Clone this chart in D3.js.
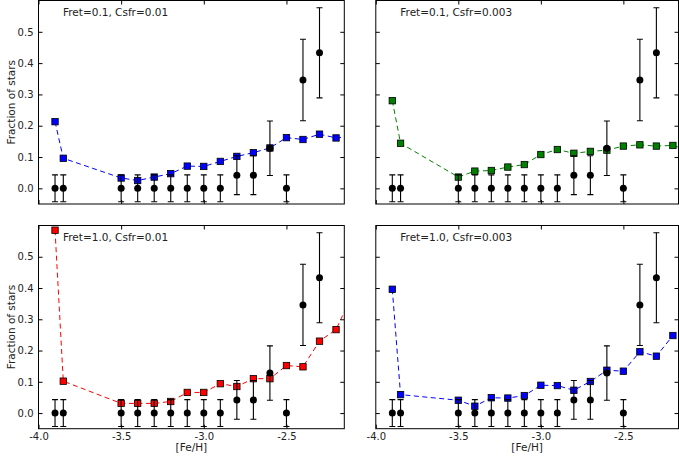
<!DOCTYPE html>
<html><head><meta charset="utf-8">
<script src="https://cdn.jsdelivr.net/npm/d3@7"></script>
<style>body{margin:0;background:#fff}svg{display:block}text{font-family:"DejaVu Sans",sans-serif;fill:#222}</style>
</head><body><svg id="c" width="679" height="460"></svg>
<script>
// Observed data (black points with error bars)
const obsFeH = [-3.9,-3.85,-3.5,-3.4,-3.3,-3.2,-3.1,-3.0,-2.9,-2.8,-2.7,-2.6,-2.5,-2.4,-2.3];
const obsFrac = [0,0,0,0,0,0,0,0,0,0.042,0.042,0.128,0,0.346,0.433];
const obsErr = [0.043,0.043,0.043,0.043,0.043,0.043,0.043,0.043,0.043,0.062,0.062,0.087,0.043,0.13,0.144];
// Model data
const modelFeH = [-3.9,-3.85,-3.5,-3.4,-3.3,-3.2,-3.1,-3.0,-2.9,-2.8,-2.7,-2.6,-2.5,-2.4,-2.3,-2.2,-2.1];
const modelA = [0.213,0.096,0.033,0.025,0.036,0.047,0.071,0.070,0.086,0.102,0.114,0.129,0.162,0.156,0.173,0.161,0.167];
const modelB = [0.280,0.144,0.036,0.055,0.057,0.068,0.076,0.108,0.124,0.112,0.118,0.122,0.135,0.139,0.135,0.137,0.12];
const modelC = [0.585,0.102,0.031,0.031,0.031,0.037,0.066,0.066,0.094,0.085,0.110,0.110,0.152,0.148,0.230,0.267,0.38];
const modelD = [0.396,0.059,0.041,0.022,0.049,0.048,0.056,0.089,0.088,0.073,0.101,0.137,0.134,0.196,0.182,0.248,0.27];
const panelLabels = ["Fret=0.1, Csfr=0.01","Fret=0.1, Csfr=0.003","Fret=1.0, Csfr=0.01","Fret=1.0, Csfr=0.003"];
const xTicks = [-4.0,-3.5,-3.0,-2.5];
const yTicks = [0.0,0.1,0.2,0.3,0.4,0.5];

const panels = [
  {x0:38.5,x1:344.3,xmax:-2.15,y0:0.5,y1:204,model:modelA,color:"#0000ff",label:panelLabels[0],left:true,bottom:false},
  {x0:375.8,x1:678.5,xmax:-2.166,y0:0.5,y1:204,model:modelB,color:"#008000",label:panelLabels[1],left:false,bottom:false},
  {x0:38.5,x1:344.3,xmax:-2.15,y0:225.5,y1:428.7,model:modelC,color:"#ff0000",label:panelLabels[2],left:true,bottom:true},
  {x0:375.8,x1:678.5,xmax:-2.166,y0:225.5,y1:428.7,model:modelD,color:"#0000ff",label:panelLabels[3],left:false,bottom:true}
];
const svg = d3.select("#c");
panels.forEach((p,i)=>{
  const x = d3.scaleLinear().domain([-4.0,p.xmax]).range([p.x0,p.x1]);
  const y = d3.scaleLinear().domain([-0.05,0.6]).range([p.y1,p.y0]);
  const g = svg.append("g");
  const cid = "clip"+i;
  g.append("clipPath").attr("id",cid).append("rect").attr("x",p.x0).attr("y",p.y0).attr("width",p.x1-p.x0).attr("height",p.y1-p.y0);
  const pg = g.append("g").attr("clip-path",`url(#${cid})`);
  const pts = p.model.map((v,j)=>[modelFeH[j],v]);
  pg.append("path").attr("d",d3.line().x(d=>x(d[0])).y(d=>y(d[1]))(pts))
    .attr("fill","none").attr("stroke",p.color).attr("stroke-width",1).attr("stroke-dasharray","5,3.5");
  pg.selectAll("rect.m").data(pts).enter().append("rect")
    .attr("x",d=>x(d[0])-3.2).attr("y",d=>y(d[1])-3.2).attr("width",6.4).attr("height",6.4)
    .attr("fill",p.color).attr("stroke","#000").attr("stroke-width",0.8);
  // error bars
  obsFeH.forEach((f,j)=>{
    const cx = x(f), lo=y(obsFrac[j]-obsErr[j]), hi=y(obsFrac[j]+obsErr[j]);
    pg.append("line").attr("x1",cx).attr("x2",cx).attr("y1",lo).attr("y2",hi).attr("stroke","#000").attr("stroke-width",1.1);
    [lo,hi].forEach(yy=>pg.append("line").attr("x1",cx-3).attr("x2",cx+3).attr("y1",yy).attr("y2",yy).attr("stroke","#000").attr("stroke-width",1.1));
    pg.append("circle").attr("cx",cx).attr("cy",y(obsFrac[j])).attr("r",3.5).attr("fill","#000");
  });
  // frame
  g.append("rect").attr("x",p.x0).attr("y",p.y0).attr("width",p.x1-p.x0).attr("height",p.y1-p.y0)
    .attr("fill","none").attr("stroke","#000").attr("stroke-width",1);
  // ticks inside
  const tl=4;
  const bAxis = d3.axisBottom(x).tickValues(xTicks).tickSizeInner(-tl).tickSizeOuter(0).tickFormat(d3.format(".1f"));
  const ba = g.append("g").attr("transform",`translate(0,${p.y1})`).call(bAxis);
  ba.select(".domain").remove();
  ba.selectAll("text").attr("dy",null).attr("y",8).attr("dominant-baseline","middle").style("font-size","10px").style("font-family","DejaVu Sans").attr("fill","#222")
    .text(d=>d.toFixed(1).replace("−","-"));
  if(!p.bottom) ba.selectAll("text").remove();
  const ta = g.append("g").attr("transform",`translate(0,${p.y0})`).call(d3.axisTop(x).tickValues(xTicks).tickSizeInner(-tl).tickSizeOuter(0).tickFormat(""));
  ta.select(".domain").remove();
  const la = g.append("g").attr("transform",`translate(${p.x0},0)`).call(d3.axisLeft(y).tickValues(yTicks).tickSizeInner(-tl).tickSizeOuter(0).tickFormat(d3.format(".1f")));
  la.select(".domain").remove();
  la.selectAll("text").attr("x",-5).style("font-size","10px").style("font-family","DejaVu Sans").attr("fill","#222");
  if(!p.left) la.selectAll("text").remove();
  const ra = g.append("g").attr("transform",`translate(${p.x1},0)`).call(d3.axisRight(y).tickValues(yTicks).tickSizeInner(-tl).tickSizeOuter(0).tickFormat(""));
  ra.select(".domain").remove();
  g.selectAll(".tick line").attr("stroke","#000");
  g.append("text").attr("x",p.x0+24.5).attr("y",p.y0+12).attr("dominant-baseline","middle").style("font-size","10.5px").text(p.label);
  if(p.left){
    const cy=(p.y0+p.y1)/2;
    g.append("text").attr("transform",`translate(12,${cy}) rotate(-90)`).attr("text-anchor","middle").attr("dominant-baseline","middle").style("font-size","10.5px").text("Fraction of stars");
  }
  if(p.bottom){
    g.append("text").attr("x",(p.x0+p.x1)/2).attr("y",448).attr("text-anchor","middle").attr("dominant-baseline","middle").style("font-size","10.5px").text("[Fe/H]");
  }
});
</script></body></html>
